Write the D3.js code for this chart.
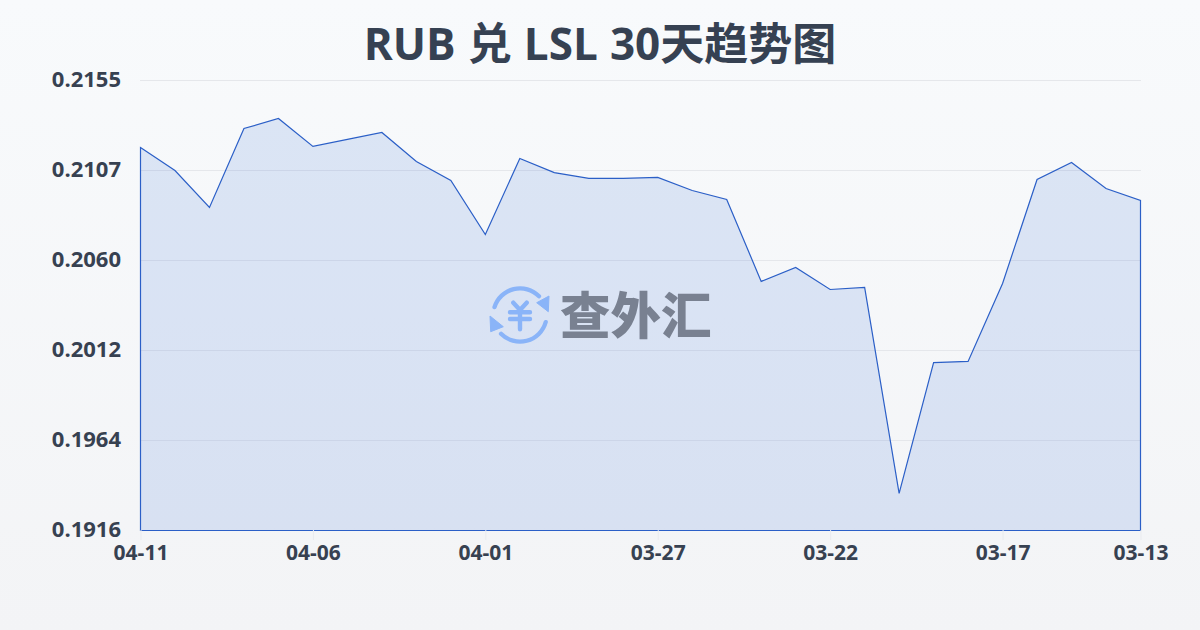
<!DOCTYPE html>
<html><head><meta charset="utf-8">
<script src="https://cdn.jsdelivr.net/npm/d3@7/dist/d3.min.js"></script>
<style>html,body{margin:0;padding:0;width:1200px;height:630px;overflow:hidden}svg{display:block}</style>
</head><body><svg id="c" width="1200" height="630"></svg>
<script>
const titleText = "RUB 兑 LSL 30天趋势图";
const dates = ["04-11","04-10","04-09","04-08","04-07","04-06","04-05","04-04","04-03","04-02","04-01","03-31","03-30","03-29","03-28","03-27","03-26","03-25","03-24","03-23","03-22","03-21","03-20","03-19","03-18","03-17","03-16","03-15","03-14","03-13"];
const rates = [.21194,.21072,.20876,.21295,.21348,.21200,.21237,.21274,.21120,.21019,.20732,.21136,.21061,.21030,.21030,.21035,.20966,.20918,.20483,.20557,.20440,.20451,.19357,.20052,.20058,.20472,.21024,.21115,.20976,.20913];
const yTickLabels = ["0.1916","0.1964","0.2012","0.2060","0.2107","0.2155"];
const xTickLabels = ["04-11","04-06","04-01","03-27","03-22","03-17","03-13"];
const watermarkText = "查外汇";
const font = "'Open Sans','Noto Sans CJK SC',sans-serif";

const svg = d3.select("#c");
const defs = svg.append("defs");
const bg = defs.append("linearGradient").attr("id","bg").attr("x1",0).attr("y1",0).attr("x2",0).attr("y2",1);
bg.append("stop").attr("offset",0).attr("stop-color","#f8fafc");
bg.append("stop").attr("offset",1).attr("stop-color","#f3f4f6");
svg.append("rect").attr("width",1200).attr("height",630).attr("fill","url(#bg)");

const x = d3.scalePoint().domain(dates).range([140.5,1140.5]);
const yMin = +yTickLabels[0], yMax = +yTickLabels[yTickLabels.length-1];
const y = d3.scaleLinear().domain([yMin,yMax]).range([530,80]);
const yTicks = yTickLabels.map((_,i)=>yMin+(yMax-yMin)*i/(yTickLabels.length-1));

const gy = svg.append("g").attr("transform","translate(140,0)")
  .call(d3.axisLeft(y).tickValues(yTicks).tickFormat((d,i)=>yTickLabels[i]).tickSize(0).tickPadding(19));
gy.select(".domain").remove();
gy.selectAll("text").attr("font-family",font).attr("font-size",22).attr("font-weight",700).attr("fill","#374151").attr("dy","0").attr("y",6);
gy.selectAll(".tick").append("line").attr("x1",0).attr("x2",1001).attr("stroke","#e5e7eb").attr("stroke-width",1);

const area = d3.area().x(d=>x(d.date)).y0(y(yMin)+.5).y1(d=>y(d.rate)+.5);
const rows = dates.map((date,i)=>({date,rate:rates[i]}));
svg.append("path").datum(rows).attr("d",d=>area(d)).attr("fill","#3b6fd4").attr("fill-opacity",.15)
  .attr("stroke","#2b5fc7").attr("stroke-width",1.2).attr("stroke-linejoin","miter");

const gx = svg.append("g").attr("transform","translate(0,530)")
  .call(d3.axisBottom(x).tickValues(xTickLabels).tickSize(10).tickPadding(5));
gx.select(".domain").remove();
gx.selectAll("line").attr("stroke","#e9ebef");
gx.selectAll("text").attr("font-family",font).attr("font-size",21).attr("font-weight",700).attr("fill","#374151");

svg.append("text").attr("x",600).attr("y",60).attr("text-anchor","middle").attr("font-family",font)
  .attr("font-size",44).attr("font-weight",700).attr("word-spacing","0.7px").attr("fill","#364152").text(titleText);

// watermark
const w = svg.append("g").attr("transform","translate(520,315)");
const blue = "#8ab4f8";
const arcGen = d3.arc().innerRadius(24.5).outerRadius(28.8).cornerRadius(2);
w.append("path").attr("d",arcGen({startAngle:-1.35,endAngle:.87})).attr("fill",blue);
w.append("path").attr("d",arcGen({startAngle:1.76,endAngle:4.01})).attr("fill",blue);
w.append("path").attr("d","M16.7,-12.3 L29,-19 L28.3,-3.3 Z").attr("fill",blue).attr("stroke",blue).attr("stroke-linejoin","round");
w.append("path").attr("d","M-30,1 L-16.7,11.7 L-29.3,16.7 Z").attr("fill",blue).attr("stroke",blue).attr("stroke-linejoin","round");
w.append("path").attr("d","M-6.7,-12.3 L0,-5 L6.7,-12.3 M-10,-2.7 H10 M-10,4 H10 M0,-5 V14.3")
  .attr("fill","none").attr("stroke",blue).attr("stroke-width",4.4).attr("stroke-linecap","round").attr("stroke-linejoin","round");
svg.append("text").attr("x",560).attr("y",334).attr("font-family","'Noto Sans CJK SC',sans-serif").attr("font-size",50.5)
  .attr("font-weight",900).attr("fill","#798191").text(watermarkText);
</script></body></html>
